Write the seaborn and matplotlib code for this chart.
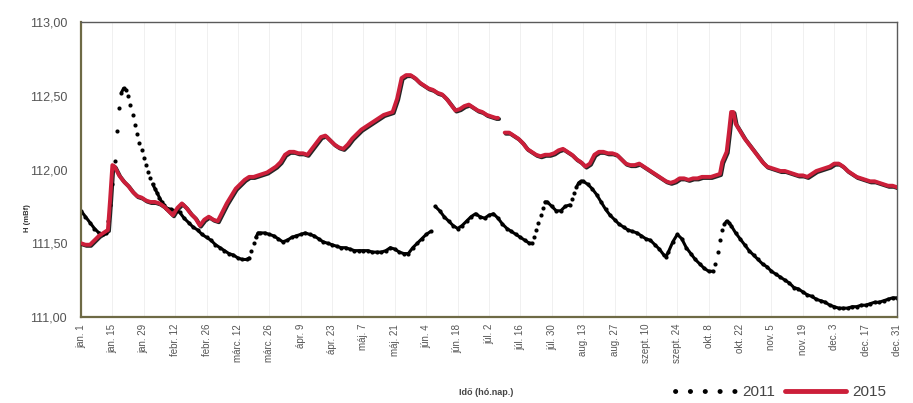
import numpy as np
import pandas as pd
import matplotlib
matplotlib.use("Agg")
import matplotlib.pyplot as plt
import matplotlib.patheffects as pe
from matplotlib.lines import Line2D
import seaborn as sns

# day of year (jan 1 = 0) and water level H (mBf)
days_2011 = [0, 2, 4, 6, 8, 10, 11, 12, 13, 14, 15, 16, 17, 18, 19, 20, 21, 22, 23, 24, 25, 26, 27, 28, 29, 30,
             31, 32, 33, 34, 35, 36, 37, 38, 40, 42, 44, 46, 48, 50, 52, 54, 56, 58, 60, 62, 64, 66, 68, 70, 72, 74,
             75, 76, 77, 78, 79, 80, 82, 84, 86, 88, 90, 92, 94, 96, 98, 100, 102, 104, 106, 108, 110, 112,
             114, 116, 118, 120, 122, 124, 126, 128, 130, 132, 134, 136, 138, 140, 142, 144, 146, 148, 150, 152,
             154, 156, 158, 160, 162, 164, 166, 168, 170, 172, 174, 176, 178, 180, 182, 184, 186, 188, 190, 192,
             194, 196, 198, 200, 201, 202, 203, 204, 205, 206, 207, 208, 210, 212, 214, 216, 218, 219, 220, 221,
             222, 223, 224, 226, 228, 230, 232, 234, 236, 238, 240, 242, 244, 246, 248, 250, 252, 254, 256, 258,
             260, 261, 262, 264, 266, 268, 270, 272, 274, 276, 278, 280, 282, 283, 284, 285, 286, 287, 288, 289,
             290, 292, 294, 296, 298, 300, 302, 304, 306, 308, 310, 312, 314, 316, 318, 320, 322, 324, 326, 328,
             330, 332, 334, 336, 338, 340, 342, 344, 346, 348, 350, 352, 354, 356, 358, 360, 362, 364]
h_2011 = [111.72, 111.68, 111.64, 111.60, 111.57, 111.56, 111.57, 111.65, 111.76, 111.90, 112.06, 112.26, 112.42,
          112.52, 112.55, 112.54, 112.50, 112.44, 112.37, 112.30, 112.24, 112.18, 112.13, 112.08, 112.03, 111.98,
          111.94, 111.90, 111.87, 111.84, 111.81, 111.78, 111.76, 111.74, 111.73, 111.72, 111.71, 111.67, 111.64,
          111.61, 111.59, 111.56, 111.54, 111.52, 111.49, 111.47, 111.45, 111.43, 111.42, 111.40, 111.39, 111.39,
          111.40, 111.45, 111.50, 111.54, 111.57, 111.57, 111.57, 111.56, 111.55, 111.53, 111.51, 111.52,
          111.54, 111.55, 111.56, 111.57, 111.56, 111.55, 111.53, 111.51, 111.50, 111.49, 111.48, 111.47, 111.47,
          111.46, 111.45, 111.45, 111.45, 111.45, 111.44, 111.44, 111.44, 111.45, 111.47, 111.46, 111.44, 111.43,
          111.43, 111.47, 111.50, 111.53, 111.56, 111.58, 111.75, 111.72, 111.68, 111.65, 111.62, 111.60, 111.62,
          111.65, 111.68, 111.70, 111.68, 111.67, 111.69, 111.70, 111.67, 111.63, 111.60, 111.58, 111.56, 111.54,
          111.52, 111.50, 111.50, 111.54, 111.59, 111.64, 111.69, 111.74, 111.78, 111.78, 111.75, 111.72, 111.72,
          111.75, 111.76, 111.80, 111.84, 111.88, 111.91, 111.92, 111.92, 111.90, 111.87, 111.83, 111.78, 111.73,
          111.69, 111.66, 111.63, 111.61, 111.59, 111.58, 111.57, 111.55, 111.53, 111.52, 111.49, 111.46, 111.42,
          111.41, 111.44, 111.51, 111.56, 111.53, 111.47, 111.43, 111.39, 111.36, 111.33, 111.31, 111.31, 111.36,
          111.44, 111.52, 111.59, 111.63, 111.65, 111.64, 111.62, 111.57, 111.53, 111.49, 111.45, 111.42, 111.39,
          111.36, 111.34, 111.31, 111.29, 111.27, 111.25, 111.23, 111.20, 111.19, 111.17, 111.15, 111.14, 111.12,
          111.11, 111.10, 111.08, 111.07, 111.06, 111.06, 111.06, 111.07, 111.07, 111.08, 111.08, 111.09, 111.10,
          111.10, 111.11, 111.12, 111.13, 111.13]

days_2015 = [0, 2, 4, 6, 8, 10, 12, 13, 14, 15, 17, 19, 21, 23, 25, 27, 29, 31, 33, 35, 37, 39, 41, 43, 45, 47, 49,
             51, 53, 55, 57, 59, 61, 63, 65, 67, 69, 71, 73, 75, 77, 79, 81, 83, 85, 87, 89, 91, 93, 95, 97, 99, 101,
             103, 105, 107, 109, 111, 113, 115, 117, 119, 121, 123, 125, 127, 129, 131, 133, 135, 137, 139, 141, 143,
             145, 147, 149, 151, 153, 155, 157, 159, 161, 163, 165, 167, 169, 171, 173, 175, 177, 179, 181, 183, 185,
             186, 189, 191, 193, 195, 197, 199, 201, 203, 205, 207, 209, 211, 213, 215, 217, 219, 221, 223, 225, 227,
             229, 231, 233, 235, 237, 239, 241, 243, 245, 247, 249, 251, 253, 255, 257, 259, 261, 263, 265, 267, 269,
             271, 273, 275, 277, 279, 281, 283, 285, 286, 288, 289, 290, 291, 292, 294, 296, 298, 300, 302, 304, 306,
             308, 310, 312, 314, 316, 318, 320, 322, 324, 326, 328, 330, 332, 334, 336, 338, 340, 342, 344, 346, 348,
             350, 352, 354, 356, 358, 360, 362, 364]
h_2015 = [111.50, 111.49, 111.49, 111.52, 111.55, 111.57, 111.59, 111.80, 112.03, 112.02, 111.96, 111.92, 111.89,
          111.85, 111.82, 111.81, 111.79, 111.78, 111.78, 111.77, 111.75, 111.72, 111.69, 111.74, 111.77, 111.74,
          111.70, 111.67, 111.62, 111.66, 111.68, 111.66, 111.65, 111.71, 111.77, 111.82, 111.87, 111.90, 111.93,
          111.95, 111.95, 111.96, 111.97, 111.98, 112.00, 112.02, 112.05, 112.10, 112.12, 112.12, 112.11, 112.11,
          112.10, 112.14, 112.18, 112.22, 112.23, 112.20, 112.17, 112.15, 112.14, 112.17, 112.21, 112.24, 112.27,
          112.29, 112.31, 112.33, 112.35, 112.37, 112.38, 112.39, 112.48, 112.62, 112.64, 112.64, 112.62, 112.59,
          112.57, 112.55, 112.54, 112.52, 112.51, 112.48, 112.44, 112.40, 112.41, 112.43, 112.44, 112.42, 112.40,
          112.39, 112.37, 112.36, 112.35, 112.35, 112.25, 112.25, 112.23, 112.21, 112.18, 112.14, 112.12, 112.10,
          112.09, 112.10, 112.10, 112.11, 112.13, 112.14, 112.12, 112.10, 112.07, 112.05, 112.02, 112.04, 112.10,
          112.12, 112.12, 112.11, 112.11, 112.10, 112.07, 112.04, 112.03, 112.03, 112.04, 112.02, 112.00, 111.98,
          111.96, 111.94, 111.92, 111.91, 111.92, 111.94, 111.94, 111.93, 111.94, 111.94, 111.95, 111.95, 111.95,
          111.96, 111.97, 112.05, 112.12, 112.25, 112.39, 112.39, 112.31, 112.26, 112.21, 112.17, 112.13, 112.09,
          112.05, 112.02, 112.01, 112.00, 111.99, 111.99, 111.98, 111.97, 111.96, 111.96, 111.95, 111.97, 111.99,
          112.00, 112.01, 112.02, 112.04, 112.04, 112.02, 111.99, 111.97, 111.95, 111.94, 111.93, 111.92, 111.92,
          111.91, 111.90, 111.89, 111.89, 111.88]

tick_days = list(range(0, 365, 14))
tick_labels = ["jan. 1", "jan. 15", "jan. 29", "febr. 12", "febr. 26", "márc. 12", "márc. 26", "ápr. 9",
               "ápr. 23", "máj. 7", "máj. 21", "jún. 4", "jún. 18", "júl. 2", "júl. 16", "júl. 30", "aug. 13",
               "aug. 27", "szept. 10", "szept. 24", "okt. 8", "okt. 22", "nov. 5", "nov. 19", "dec. 3",
               "dec. 17", "dec. 31"]
y_ticks = [111.0, 111.5, 112.0, 112.5, 113.0]

sns.set_style("white")
plt.rcParams["font.family"] = ["Liberation Sans", "DejaVu Sans"]

df11 = pd.DataFrame({"nap": days_2011, "H": h_2011})
# solid where the level changes slowly, only dots where it moves fast (as in the original)
rate = (df11["H"].diff().abs() / df11["nap"].diff()).fillna(0)
df11["seg"] = (rate > 0.038).cumsum()

df15 = pd.DataFrame({"nap": days_2015, "H": h_2015})
df15["seg"] = (df15["nap"].diff() > 2).cumsum()

fig = plt.figure(figsize=(9.13, 4.03), dpi=100)
ax = fig.add_axes([0.0887, 0.2134, 0.8938, 0.732])

for d in tick_days:
    ax.axvline(d, color="#eeeeee", lw=0.6, zorder=0)

sns.lineplot(data=df11, x="nap", y="H", units="seg", estimator=None, color="black", lw=2.2,
             ax=ax, zorder=2)
sns.scatterplot(data=df11, x="nap", y="H", color="black", s=9, linewidth=0, ax=ax, zorder=2)

sns.lineplot(data=df15, x="nap", y="H", units="seg", estimator=None, color="#cc1f3a", lw=2.8, ax=ax, zorder=3,
             path_effects=[pe.SimpleLineShadow(offset=(0.8, -0.8), shadow_color="black", alpha=0.85),
                           pe.Normal()])

ax.set_xlim(0, 364)
ax.set_ylim(111, 113)
ax.set_yticks(y_ticks)
ax.set_yticklabels([f"{v:.2f}".replace(".", ",") for v in y_ticks], fontsize=9, color="#555555")
ax.set_xticks(tick_days)
ax.set_xticklabels(tick_labels, rotation=90, fontsize=7, color="#555555")
ax.tick_params(axis="x", length=3, color="#777755", pad=2)
ax.tick_params(axis="y", length=0, pad=10)
ax.set_xlabel("")
ax.set_ylabel("")
for s in ["left", "bottom"]:
    ax.spines[s].set_color("#6e6a45")
    ax.spines[s].set_linewidth(1.6)
for s in ["top", "right"]:
    ax.spines[s].set_color("#5a5a5a")
    ax.spines[s].set_linewidth(1.0)

fig.text(0.03, 0.46, "H (mBf)", rotation=90, fontsize=5.5, fontweight="bold", color="#333333",
         ha="center", va="center")
fig.text(0.503, 0.027, "Idő (hó.nap.)", fontsize=6.5, fontweight="bold", color="#444444",
         ha="left", va="center")

handles = [Line2D([], [], color="black", lw=3.5, linestyle=(0, (0.05, 3.0)), dash_capstyle="round"),
           Line2D([], [], color="#cc1f3a", lw=3.5)]
fig.legend(handles, ["2011", "2015"], loc="center", bbox_to_anchor=(0.855, 0.027), ncol=2, frameon=False,
           fontsize=11, handlelength=4.0, handletextpad=0.4, columnspacing=0.6, labelcolor="#444444")

fig.savefig("out.png", dpi=100)
